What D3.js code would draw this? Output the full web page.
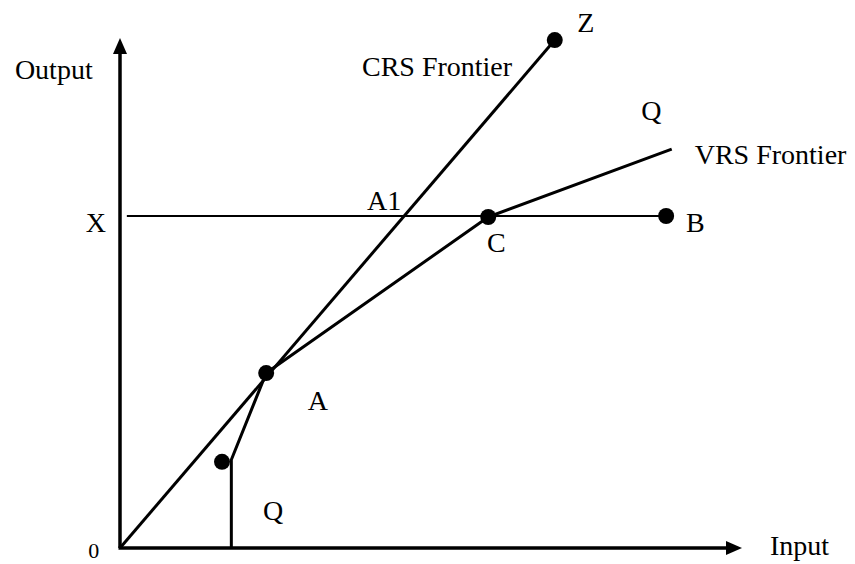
<!DOCTYPE html>
<html>
<head>
<meta charset="utf-8">
<script src="https://cdn.jsdelivr.net/npm/d3@7"></script>
<style>
  html, body { margin: 0; padding: 0; background: #fff; }
  text { font-family: "Liberation Serif", "Times New Roman", serif; fill: #000; }
</style>
</head>
<body>
<svg id="chart" width="855" height="564"></svg>
<script>
// values in chart units (input 0..100, output 0..100)
const crsFrontier = [[0, 0], [69.9, 99.6]];
const vrsFrontier = [[17.9, 0], [17.9, 17.3], [23.5, 34.3], [59.2, 64.9], [88.7, 78.2]];
const outputLevelX = [[1.1, 65.1], [87.8, 65.1]];
const dmuPoints = [[16.4, 16.9], [23.5, 34.3], [59.2, 64.9], [87.8, 65.1], [69.9, 99.6]];

const labels = [
  { text: 'Output', x: -16.9, y: 92.0 },
  { text: 'CRS Frontier', x: 38.9, y: 92.5 },
  { text: 'Z', x: 73.5, y: 101.2 },
  { text: 'Q', x: 83.8, y: 83.9 },
  { text: 'VRS Frontier', x: 92.4, y: 75.3 },
  { text: 'X', x: -5.5, y: 62.0 },
  { text: 'A1', x: 39.7, y: 66.3 },
  { text: 'C', x: 59.0, y: 58.0 },
  { text: 'B', x: 91.0, y: 62.0 },
  { text: 'A', x: 30.2, y: 27.1 },
  { text: 'Q', x: 23.0, y: 5.5 },
  { text: '0', x: -5.1, y: -1.9, small: true },
  { text: 'Input', x: 104.5, y: -1.4 },
];

const svg = d3.select('#chart');

const xScale = d3.scaleLinear().domain([0, 100]).range([120, 742]);
const yScale = d3.scaleLinear().domain([0, 100]).range([548, 38]);

const line = d3.line().x((d) => xScale(d[0])).y((d) => yScale(d[1]));

// axes with arrow heads
const x0 = xScale(0), y0 = yScale(0);
const xEnd = xScale(100), yEnd = yScale(100);

svg.append('line')
  .attr('x1', x0).attr('y1', y0)
  .attr('x2', x0).attr('y2', yEnd + 14)
  .attr('stroke', '#000').attr('stroke-width', 3.5);
svg.append('path')
  .attr('d', `M${x0},${yEnd} L${x0 - 7},${yEnd + 16} L${x0 + 7},${yEnd + 16} Z`)
  .attr('fill', '#000');

svg.append('line')
  .attr('x1', x0 - 1.5).attr('y1', y0)
  .attr('x2', xEnd - 14).attr('y2', y0)
  .attr('stroke', '#000').attr('stroke-width', 3.5);
svg.append('path')
  .attr('d', `M${xEnd},${y0} L${xEnd - 16},${y0 - 7} L${xEnd - 16},${y0 + 7} Z`)
  .attr('fill', '#000');

// horizontal output level
svg.append('path')
  .datum(outputLevelX)
  .attr('d', line)
  .attr('fill', 'none')
  .attr('stroke', '#000')
  .attr('stroke-width', 2);

// frontiers
svg.append('path')
  .datum(crsFrontier)
  .attr('d', line)
  .attr('fill', 'none')
  .attr('stroke', '#000')
  .attr('stroke-width', 3);

svg.append('path')
  .datum(vrsFrontier)
  .attr('d', line)
  .attr('fill', 'none')
  .attr('stroke', '#000')
  .attr('stroke-width', 3)
  .attr('stroke-linejoin', 'round');

// points
svg.selectAll('circle')
  .data(dmuPoints)
  .join('circle')
  .attr('cx', (d) => xScale(d[0]))
  .attr('cy', (d) => yScale(d[1]))
  .attr('r', 8)
  .attr('fill', '#000');

// labels
svg.selectAll('text.lbl')
  .data(labels)
  .join('text')
  .attr('class', 'lbl')
  .attr('x', (d) => xScale(d.x))
  .attr('y', (d) => yScale(d.y))
  .attr('font-size', (d) => (d.small ? 22 : 28))
  .text((d) => d.text);
</script>
</body>
</html>
